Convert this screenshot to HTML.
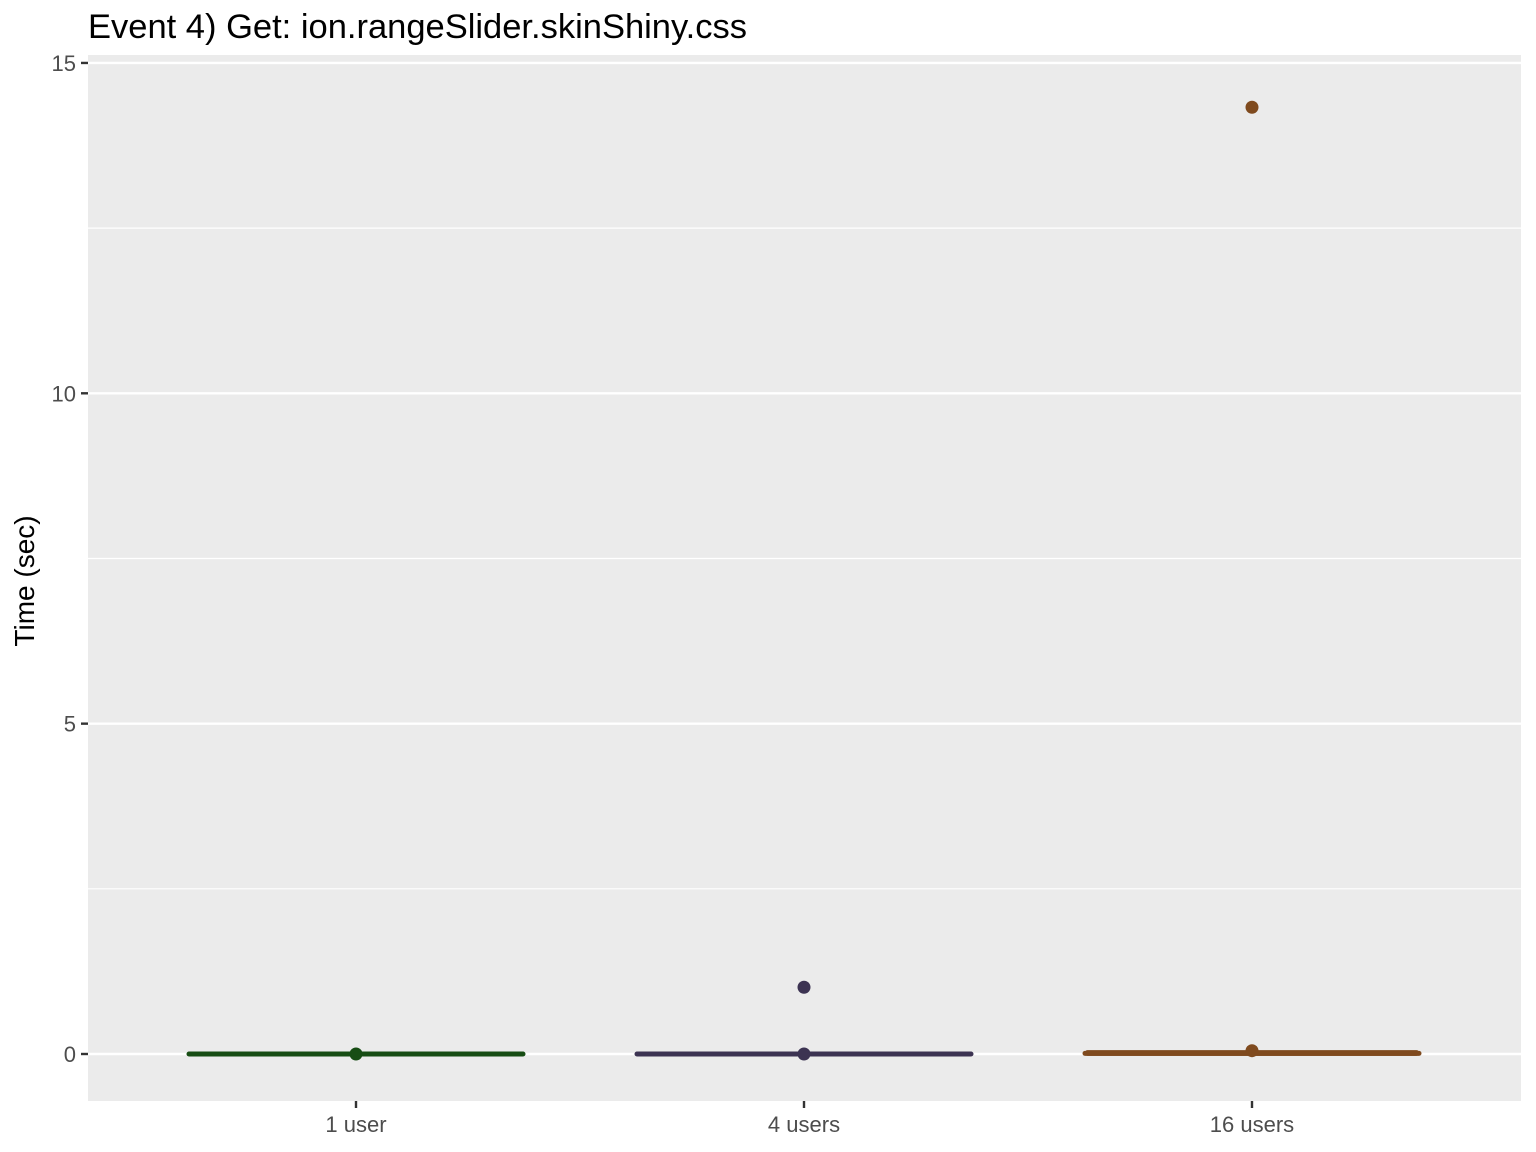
<!DOCTYPE html>
<html><head><meta charset="utf-8"><style>
body{margin:0;background:#fff;}
svg{display:block;font-family:"Liberation Sans",sans-serif;}
</style></head><body>
<svg id="c" width="1536" height="1152">
<text x="88" y="38" font-size="34.5" fill="#000">Event 4) Get: ion.rangeSlider.skinShiny.css</text>
<rect x="88" y="55" width="1433" height="1046" fill="#ebebeb"/>
<g id="grid"></g><g id="marks"></g><g id="axes"></g>
<text transform="translate(34,581) rotate(-90)" text-anchor="middle" font-size="28" fill="#000">Time (sec)</text>
</svg>
<script>
const categories=["1 user","4 users","16 users"];
const colors=["#174d14","#3c3352","#7f4a1e"];
const boxLow=[0.0,0.0,0.01];
const boxMid=[0.0,0.0,0.01];
const boxHigh=[0.0,0.0,0.02];
const outliers=[[0.0],[1.01,0.0],[14.33,0.05]];
const yTicks=[0,5,10,15];
const yMinor=[2.5,7.5,12.5];
const NS="http://www.w3.org/2000/svg";
function y(v){return 1054-v*66.07;}
function x(i){return 356+i*448;}
function mk(t,a,p){const e=document.createElementNS(NS,t);for(const k in a)e.setAttribute(k,a[k]);p.appendChild(e);return e;}
const g=document.getElementById('grid'),m=document.getElementById('marks'),ax=document.getElementById('axes');
yMinor.forEach(v=>{const l=mk('line',{x1:88,x2:1521,y1:y(v),y2:y(v),stroke:'#fff','stroke-width':1.2},g);

});
yTicks.forEach(v=>{const l=mk('line',{x1:88,x2:1521,y1:y(v),y2:y(v),stroke:'#fff','stroke-width':2.4},g);


const t=mk('line',{x1:81,x2:88,y1:y(v),y2:y(v),stroke:'#333','stroke-width':2.4},ax);


const tx=mk('text',{x:76,y:y(v)+8,'text-anchor':'end','font-size':22,fill:'#4d4d4d'},ax);tx.textContent=v;

});
categories.forEach((c,i)=>{const cx=x(i),hw=167;
const t=mk('line',{x1:cx,x2:cx,y1:1101,y2:1108,stroke:'#333','stroke-width':2.4},ax);


const tx=mk('text',{x:cx,y:1132,'text-anchor':'middle','font-size':22,fill:'#4d4d4d'},ax);tx.textContent=c;


const b=mk('rect',{x:cx-hw,y:y(boxHigh[i])-2.5,width:2*hw,height:Math.max(5,y(boxLow[i])-y(boxHigh[i])+5),rx:2.5,fill:colors[i]},m);


const md=mk('line',{x1:cx-hw,x2:cx+hw,y1:y(boxMid[i]),y2:y(boxMid[i]),stroke:colors[i],'stroke-width':5,'stroke-linecap':'round'},m);


outliers[i].forEach(v=>{const p=mk('circle',{cx:cx,cy:y(v),r:6.5,fill:colors[i]},m);

});});
</script>
</body></html>
